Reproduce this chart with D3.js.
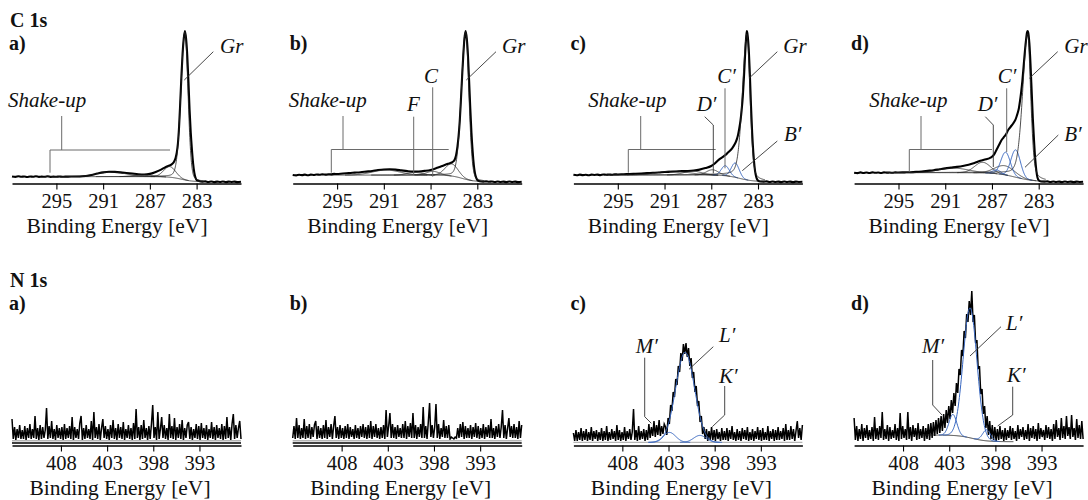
<!DOCTYPE html>
<html>
<head>
<meta charset="utf-8">
<script src="https://cdn.jsdelivr.net/npm/d3@7/dist/d3.min.js"></script>
<style>
  body { margin: 0; background: #fff; }
</style>
</head>
<body>
<svg id="fig" width="1088" height="500"></svg>
<script>
// ---------------------------------------------------------------------------
// Data
// ---------------------------------------------------------------------------
const panelLetters = ["a)", "b)", "c)", "d)"];
const c1sTicks = [295, 291, 287, 283];
const n1sTicks = [408, 403, 398, 393];
const c1sRange = [298.8, 279.2];   // binding energy window, eV
const n1sRange = [413.3, 388.5];

// C 1s measured spectra: [binding energy (eV), normalised intensity]
const c1sA = [[298.8,4.3],[298.5,4.0],[298.25,4.4],[298,4.1],[297.75,4.3],[297.5,3.9],[297.25,4.3],[297,4.1],[296.75,4.4],[296.5,4.0],[296.25,4.2],[296,4.1],[295.75,4.4],[295.5,4.0],[295.25,4.2],[295,4.1],[294.75,4.3],[294.5,4.1],[294.25,4.2],[294,4.2],[293.5,4.3],[293,4.3],[292.5,4.6],[292,5.3],[291.5,6.2],[291,7.0],[290.5,7.4],[290,7.3],[289.5,7.0],[289,6.6],[288.5,6.2],[288,5.8],[287.5,5.6],[287,6.0],[286.5,7.3],[286,9.0],[285.7,10.3],[285.4,11.3],[285.2,11.9],[285.0,13.2],[284.9,14.5],[284.8,16.5],[284.7,20],[284.6,26],[284.5,37],[284.4,53],[284.3,70],[284.2,85],[284.1,95],[284.0,100],[283.9,95],[283.8,84],[283.7,67],[283.6,48],[283.5,33],[283.4,22],[283.3,13],[283.2,7],[283.1,3.6],[283.0,2.0],[282.8,1.3],[282.5,0.9],[282.25,1.1],[282,0.7],[281.75,1.0],[281.5,0.6],[281.25,0.9],[281,0.7],[280.75,1.0],[280.5,0.6],[280.25,0.9],[280,0.7],[279.75,0.9],[279.5,0.6],[279.2,0.8]];
const c1sB = [[298.8,5.3],[298.5,5.0],[298.25,5.4],[298,5.2],[297.75,5.5],[297.5,5.1],[297.25,5.5],[297,5.3],[296.75,5.6],[296.5,5.4],[296.25,5.7],[296,5.5],[295.75,5.8],[295.5,5.7],[295.25,6.0],[295,5.9],[294.5,6.3],[294,6.5],[293.5,6.8],[293,7.1],[292.5,7.5],[292,7.9],[291.5,8.5],[291,8.9],[290.5,9.0],[290,8.8],[289.5,8.3],[289,7.8],[288.5,7.5],[288,7.6],[287.5,8.0],[287,8.6],[286.5,9.8],[286,11.2],[285.5,12.6],[285.2,13.5],[285.0,14.5],[284.9,16],[284.8,19],[284.7,24],[284.6,31],[284.5,41],[284.4,55],[284.3,70],[284.2,84],[284.1,95],[284.0,100],[283.9,95],[283.8,84],[283.7,67],[283.6,49],[283.5,33],[283.4,21],[283.3,12],[283.2,6.5],[283.1,3.5],[283.0,2.0],[282.8,1.2],[282.5,0.9],[282.25,1.1],[282,0.8],[281.75,1.0],[281.5,0.7],[281.25,1.0],[281,0.7],[280.75,0.9],[280.5,0.6],[280.25,1.0],[280,0.7],[279.75,0.9],[279.5,0.6],[279.2,0.8]];
const c1sC = [[298.8,5.4],[298.5,5.1],[298.25,5.5],[298,5.2],[297.75,5.4],[297.5,5.1],[297.25,5.5],[297,5.3],[296.75,5.5],[296.5,5.2],[296.25,5.6],[296,5.4],[295.75,5.6],[295.5,5.4],[295.25,5.7],[295,5.6],[294.5,5.8],[294,5.9],[293.5,6.1],[293,6.3],[292.5,6.5],[292,6.7],[291.5,6.9],[291,7.2],[290.5,7.4],[290,7.6],[289.5,7.8],[289,7.9],[288.5,8.2],[288,8.8],[287.5,9.8],[287.0,11.2],[286.7,12.8],[286.5,14.3],[286.2,16.2],[286.0,17.2],[285.7,19.0],[285.5,20.5],[285.2,23],[285.0,25.5],[284.8,29],[284.7,32],[284.6,36],[284.5,41],[284.4,48],[284.3,57],[284.2,70],[284.1,85],[284.0,97],[283.95,100],[283.9,98],[283.8,89],[283.7,72],[283.6,51],[283.5,33],[283.4,20],[283.3,11],[283.2,5.5],[283.1,2.8],[283.0,1.6],[282.8,1.0],[282.5,0.9],[282.25,1.1],[282,0.7],[281.75,1.0],[281.5,0.7],[281.25,0.9],[281,0.6],[280.75,1.0],[280.5,0.7],[280.25,0.9],[280,0.6],[279.75,0.9],[279.5,0.7],[279.2,0.8]];
const c1sD = [[298.8,6.8],[298.5,6.5],[298.25,7.0],[298,6.6],[297.75,6.9],[297.5,6.6],[297.25,7.0],[297,6.7],[296.75,6.9],[296.5,6.6],[296.25,7.0],[296,6.8],[295.75,6.9],[295.5,6.7],[295.25,7.0],[295,6.9],[294.5,7.0],[294,7.1],[293.5,7.3],[293,7.6],[292.5,8.0],[292,8.4],[291.5,9.0],[291,9.6],[290.5,10.1],[290,10.6],[289.5,11.2],[289,12.0],[288.5,13.2],[288,14.6],[287.5,15.6],[287.2,16.4],[287.0,17.3],[286.8,19],[286.6,22],[286.4,25],[286.2,28],[286.0,30],[285.8,32],[285.6,35],[285.4,37],[285.2,39],[285.0,41.5],[284.9,43.6],[284.8,46],[284.7,49],[284.6,54],[284.5,60],[284.4,67],[284.3,76],[284.2,85],[284.1,93],[284.0,99],[283.95,100],[283.9,99],[283.8,92],[283.7,78],[283.6,60],[283.5,42],[283.4,28],[283.3,16],[283.2,8],[283.1,3.5],[283.0,1.8],[282.8,1.0],[282.5,0.9],[282.25,1.1],[282,0.7],[281.75,1.0],[281.5,0.7],[281.25,0.9],[281,0.6],[280.75,1.0],[280.5,0.7],[280.25,0.9],[280,0.6],[279.75,0.9],[279.5,0.7],[279.2,0.8]];

// C 1s fit components: [name, centre eV, height, FWHM high-BE side, FWHM low-BE side, Lorentzian fraction]
const c1sFitA = [["shake-up",290.3,3.0,3.0,3.0,0],["C–O",287.6,1.2,1.8,1.8,0],["sp3",285.3,7.0,1.2,1.2,0],["Gr",284.0,97.5,0.8,0.62,0.15]];
const c1sFitB = [["shake-up",290.8,3.3,2.8,2.8,0],["F",288.4,1.8,1.5,1.5,0],["C",286.8,2.5,1.3,1.3,0],["sp3",285.2,8.0,1.3,1.3,0],["Gr",284.0,97,0.85,0.65,0.15]];
const c1sFitC = [["shake-up",290.3,2.5,3.2,3.2,0],["C=O",288.6,2.5,1.8,1.8,0],["D′",286.9,3.5,1.2,1.2,0],["C′",285.8,6.6,0.8,0.8,0],["B′",284.95,9.4,0.8,0.8,0],["Gr",283.95,96,0.9,0.62,0.3]];
const c1sFitD = [["shake-up",290.3,3.0,3.0,3.0,0],["C=O",287.8,7.0,1.6,1.6,0],["D′",286.6,2.5,0.8,0.8,0],["C–N",285.9,6.0,2.0,2.0,0],["C′",285.83,15,0.95,0.95,0],["B′",284.97,18,0.95,0.95,0],["Gr",283.95,96,1.0,0.62,0.35]];
// Shirley-type background: [high-BE level, low-BE level, step centre eV, step width eV]
const c1sBackground = [[4.2,0.8,284.3,0.5],[5.2,0.9,284.3,0.5],[5.3,0.9,284.6,0.6],[6.8,0.9,285.0,0.8]];
// nitrogen-related (highlighted) species in each C 1s fit
const c1sHighlighted = [[], [], ["B′","C′"], ["B′","C′","D′"]];

// N 1s measured counts on a uniform energy grid from 413.3 eV down to 388.5 eV
const n1sA = [24,4,16,3,14,5,18,4,13,4,17,3,15,5,19,4,14,5,27,4,
  15,3,18,4,16,5,13,35,4,17,5,22,4,14,3,18,5,15,4,16,
  3,19,4,15,5,17,4,26,3,16,5,14,4,20,27,3,15,4,18,5,
  14,4,22,3,31,5,16,4,19,3,15,24,5,17,4,14,3,18,5,23,
  4,15,3,19,5,16,4,21,3,14,5,18,4,15,3,20,4,34,5,16,
  3,18,4,23,5,15,3,17,4,19,38,5,16,3,31,4,14,26,5,18,
  4,15,3,29,5,17,4,25,3,16,5,19,4,23,3,15,5,18,21,4,
  16,3,14,5,19,4,17,3,20,5,15,4,18,3,14,5,21,4,16,3,
  18,5,15,4,19,3,17,4,26,5,16,3,19,29,4,18,5,15,22,4];
const n1sB = [5,17,4,25,5,18,4,15,5,24,4,17,5,19,4,16,6,18,22,4,
  17,5,15,4,18,5,23,4,16,6,19,4,17,27,5,16,4,18,5,15,
  4,17,5,19,4,16,6,14,4,18,5,15,4,17,6,19,5,16,4,18,
  5,22,4,17,6,19,5,15,4,16,5,18,4,33,6,17,30,5,19,5,
  16,4,18,6,15,5,19,5,22,4,17,6,20,5,30,5,18,4,16,6,
  19,5,36,5,17,4,21,40,6,18,5,16,39,5,19,4,15,6,23,5,
  17,5,18,4,6,5,4,6,5,15,5,19,6,21,4,17,5,15,5,18,
  4,16,6,20,5,17,4,15,5,19,4,16,6,18,5,24,5,15,4,17,
  6,19,5,16,33,5,18,4,15,25,6,17,5,19,5,16,4,22,5,18];
const n1sC = [10,2,13,2,11,3,15,2,12,3,14,2,11,3,16,2,12,4,13,2,
  11,3,15,2,12,3,17,2,11,3,14,4,12,2,18,3,13,2,11,3,
  16,2,12,4,14,3,11,34,3,13,2,17,3,12,4,14,2,13,3,19,
  5,16,7,22,6,18,8,23,7,17,9,19,
  16,8,25,19,38,32,51,46,64,58,77,71,90,82,99,89,100,86,95,77,85,65,71,51,57,37,42,21,27,9,16,4,
  14,2,12,3,16,3,13,2,14,4,11,2,15,3,12,3,
  15,2,13,4,17,3,11,2,14,3,12,2,15,4,13,3,16,2,11,3,
  14,2,12,4,16,3,13,2,15,3,11,3,17,2,12,4,14,2,13,3,
  16,3,12,4,15,2,19,3,13,3,17,4,14,2,12,22,5,15,3,18];
const n1sD = [25,3,17,2,14,4,19,2,15,5,18,3,13,4,16,2,26,4,15,3,
  17,5,31,3,14,4,18,2,16,4,13,5,19,3,15,2,30,4,17,5,
  14,3,31,4,16,2,18,6,15,3,20,4,14,5,17,2,15,4,19,3,
  20,5,21,7,23,9,25,10,27,12,29,15,33,20,37,24,43,30,50,37,
  60,50,74,68,93,87,112,105,129,121,142,128,152,121,128,100,103,74,77,49,
  54,29,37,15,27,8,22,4,18,3,16,2,14,3,17,4,13,2,15,3,
  13,5,17,3,15,4,12,2,18,4,14,6,16,3,13,4,19,2,15,5,
  17,4,14,2,20,4,15,6,13,3,18,5,16,4,14,2,19,4,23,6,
  15,3,25,5,17,4,27,7,16,4,28,6,15,3,24,5,18,4,22,4];

// N 1s fit components (same layout as the C 1s ones)
const n1sFitC = [["M′",402.9,10,1.6,1.6,0],["L′",401.2,90,2.4,2.4,0],["K′",399.6,7,1.6,1.6,0]];
const n1sFitD = [["M′",402.6,21,1.0,1.0,0],["L′",400.74,130,1.75,1.75,0],["K′",398.95,11,1.0,1.0,0]];
const n1sBackground = [[2.2,2.2,400,1],[2.2,2.2,400,1],[0.6,0.6,400,1],[8,1.3,400.5,0.8]];

// ---------------------------------------------------------------------------
// Layout and helpers
// ---------------------------------------------------------------------------
const svg = d3.select("#fig");
const FONT = "'Liberation Serif', 'DejaVu Serif', serif";
const colX = [12, 292.7, 573.4, 854.1];
const plotW = 229;
const blue = "#3565c0";

const yC = d3.scaleLinear().domain([0, 100]).range([183, 31]);
const yN = d3.scaleLinear().domain([0, 150]).range([443, 293]);
const c1sAxisY = 183.5, n1sAxisY = 445.5;

function peak(E, p) {
  const [, c, h, wHi, wLo, m] = p;
  const w = E >= c ? wHi : wLo;
  const t = (E - c) / (w / 2);
  return h * ((1 - m) * Math.exp(-Math.LN2 * t * t) + m / (1 + t * t));
}
function background(E, bg) {
  return bg[1] + (bg[0] - bg[1]) / (1 + Math.exp(-(E - bg[2]) / bg[3]));
}

function text(txt, x, y, o = {}) {
  svg.append("text").attr("x", x).attr("y", y).text(txt)
    .attr("font-family", FONT)
    .attr("fill", "#111")
    .attr("font-size", o.size || 21)
    .attr("font-style", o.italic ? "italic" : null)
    .attr("font-weight", o.bold ? "bold" : null)
    .attr("text-anchor", o.anchor || "start");
}
function poly(pts, stroke, w) {
  svg.append("polyline")
    .attr("points", pts.map(p => p.join(",")).join(" "))
    .attr("fill", "none").attr("stroke", stroke).attr("stroke-width", w);
}

function drawAxis(x, ticks, axisY, titleDx) {
  const g = svg.append("g").attr("transform", `translate(0,${axisY})`)
    .call(d3.axisBottom(x).tickValues(ticks).tickSize(6).tickSizeOuter(0).tickPadding(4));
  g.attr("font-family", FONT).attr("font-size", 20.5);
  g.select(".domain").attr("stroke", "#000").attr("stroke-width", 1.3);
  g.selectAll(".tick line").attr("stroke", "#000").attr("stroke-width", 1.1);
  g.selectAll(".tick text").attr("font-family", FONT).attr("font-size", 20.5).attr("fill", "#111");
  text("Binding Energy [eV]", x.range()[0] + titleDx, axisY + 49.5, { size: 21.5, anchor: "middle" });
}

const line = (x, y) => d3.line().x(d => x(d[0])).y(d => y(d[1]));

// portion of a component curve that stands clear of the background
function visiblePart(grid, p, bg) {
  return grid.filter(E => peak(E, p) > 0.04).map(E => [E, background(E, bg) + peak(E, p)]);
}

// ---------------------------------------------------------------------------
// C 1s row
// ---------------------------------------------------------------------------
text("C 1s", 10, 27, { bold: true, size: 20 });
const c1sData = [c1sA, c1sB, c1sC, c1sD];
const c1sFits = [c1sFitA, c1sFitB, c1sFitC, c1sFitD];

c1sData.forEach((spec, i) => {
  const x0 = colX[i];
  const x = d3.scaleLinear().domain(c1sRange).range([x0, x0 + plotW]);
  text(panelLetters[i], x0 - 3, 50, { bold: true, size: 20 });

  // measured spectrum
  svg.append("path").attr("d", line(x, yC).curve(d3.curveMonotoneX)(spec))
    .attr("fill", "none").attr("stroke", "#000").attr("stroke-width", 2.1).attr("stroke-linejoin", "round");

  // fitted components sitting on the background, then the background itself
  const bg = c1sBackground[i];
  const grid = d3.range(296, 282.4, -0.02);
  c1sFits[i].forEach(p => {
    const hi = c1sHighlighted[i].includes(p[0]);
    svg.append("path").attr("d", line(x, yC)(visiblePart(grid, p, bg))).attr("fill", "none")
      .attr("stroke", hi ? blue : "#222").attr("stroke-width", hi ? 1.0 : 0.8);
  });
  svg.append("path").attr("d", line(x, yC)(grid.map(E => [E, background(E, bg)])))
    .attr("fill", "none").attr("stroke", "#222").attr("stroke-width", 0.8);

  drawAxis(x, c1sTicks, c1sAxisY, 105);
});

// annotations (offsets relative to each panel's left edge)
const annC1s = [
  { labels: [["Gr", 208, 53], ["Shake-up", -4, 107]],
    leaders: [[[201.3, 51.7], [172.3, 80]]],
    brackets: [[[49.7, 116], [49.7, 150]], [[38, 172.7], [38, 150], [158, 150]]] },
  { labels: [["Gr", 209.3, 53], ["Shake-up", -4, 107], ["C", 138.3, 83, "middle"], ["F", 120.8, 111, "middle"]],
    leaders: [[[203.3, 51.7], [173.6, 80]]],
    brackets: [[[50.3, 116], [50.3, 149.5]], [[38.6, 172.7], [38.6, 149.5], [156, 149.5]],
               [[140, 87.3], [140, 176.7]], [[121, 116.7], [121, 175]]] },
  { labels: [["Gr", 209.9, 53], ["Shake-up", 14.9, 107], ["C′", 143.9, 83], ["D′", 123.3, 111], ["B′", 210.6, 141]],
    leaders: [[[203.9, 51.7], [175.6, 78.3]], [[131.3, 116.7], [139.9, 125], [139.9, 173.3]],
              [[203.9, 141], [168.9, 170.7]]],
    brackets: [[[67.3, 116], [67.3, 149.5]], [[54.9, 172.7], [54.9, 149.5], [142.3, 149.5]],
               [[151.6, 88.3], [151.6, 168.3]]] },
  { labels: [["Gr", 210.2, 53], ["Shake-up", 15.2, 107], ["C′", 143.6, 83], ["D′", 123.6, 111], ["B′", 210.2, 141]],
    leaders: [[[203.6, 51.7], [175.2, 78.3]], [[131.2, 116.7], [139.2, 125], [139.2, 167]],
              [[204.2, 135], [170.9, 167.3]]],
    brackets: [[[66.9, 116], [66.9, 149.5]], [[55.2, 171.7], [55.2, 149.5], [137.9, 149.5]],
               [[152.6, 88.3], [152.6, 152]]] }
];

// ---------------------------------------------------------------------------
// N 1s row
// ---------------------------------------------------------------------------
text("N 1s", 10, 287, { bold: true, size: 20 });
const n1sData = [n1sA, n1sB, n1sC, n1sD];
const n1sFits = [[], [], n1sFitC, n1sFitD];

n1sData.forEach((counts, i) => {
  const x0 = colX[i];
  const x = d3.scaleLinear().domain(n1sRange).range([x0, x0 + plotW]);
  text(panelLetters[i], x0 - 3, 310, { bold: true, size: 20 });

  const step = (n1sRange[0] - n1sRange[1]) / (counts.length - 1);
  const spec = counts.map((v, k) => [n1sRange[0] - k * step, v]);
  const bg = n1sBackground[i];

  if (i < 2) {
    svg.append("path").attr("d", line(x, yN)([[n1sRange[0], 0], [n1sRange[1], 0]]))
      .attr("fill", "none").attr("stroke", "#000").attr("stroke-width", 1.4);
  }
  svg.append("path").attr("d", line(x, yN)(spec))
    .attr("fill", "none").attr("stroke", "#000").attr("stroke-width", 1.5).attr("stroke-linejoin", "miter");

  const grid = i < 3 ? d3.range(n1sRange[0], n1sRange[1] - 0.01, -0.05) : d3.range(406, 396, -0.05);
  svg.append("path").attr("d", line(x, yN)(grid.map(E => [E, background(E, bg)])))
    .attr("fill", "none").attr("stroke", i < 3 ? "#b5b5b5" : "#222").attr("stroke-width", i < 3 ? 1.4 : 0.9);

  const fgrid = d3.range(406, 396, -0.05);
  n1sFits[i].forEach(p => {
    svg.append("path").attr("d", line(x, yN)(visiblePart(fgrid, p, bg))).attr("fill", "none")
      .attr("stroke", blue).attr("stroke-width", 1.0);
  });

  drawAxis(x, n1sTicks, n1sAxisY, 108);
});

const annN1s = [null, null,
  { labels: [["M′", 62.3, 353], ["L′", 145.6, 341.7], ["K′", 145.6, 383]],
    leaders: [[[71.3, 357.7], [71.3, 416.7], [77.9, 423.3]], [[139.9, 346.7], [115.6, 369.3]],
              [[151.3, 386], [151.3, 415], [138.9, 426.7]]], brackets: [] },
  { labels: [["M′", 67.9, 353], ["L′", 151.9, 330], ["K′", 152.9, 381.7]],
    leaders: [[[78.6, 360], [78.6, 405], [87.9, 415]], [[146.9, 326.7], [115.9, 356]],
              [[158.6, 386.7], [158.6, 415], [143.6, 426]]], brackets: [] }
];

function drawAnnotations(list) {
  list.forEach((a, i) => {
    if (!a) return;
    const x0 = colX[i];
    a.brackets.forEach(b => poly(b.map(p => [x0 + p[0], p[1]]), "#6a6a6a", 1.0));
    a.leaders.forEach(l => poly(l.map(p => [x0 + p[0], p[1]]), "#333", 0.9));
    a.labels.forEach(([t, dx, y, anchor]) => text(t, x0 + dx, y, { italic: true, anchor: anchor || "start" }));
  });
}
drawAnnotations(annC1s);
drawAnnotations(annN1s);
</script>
</body>
</html>
